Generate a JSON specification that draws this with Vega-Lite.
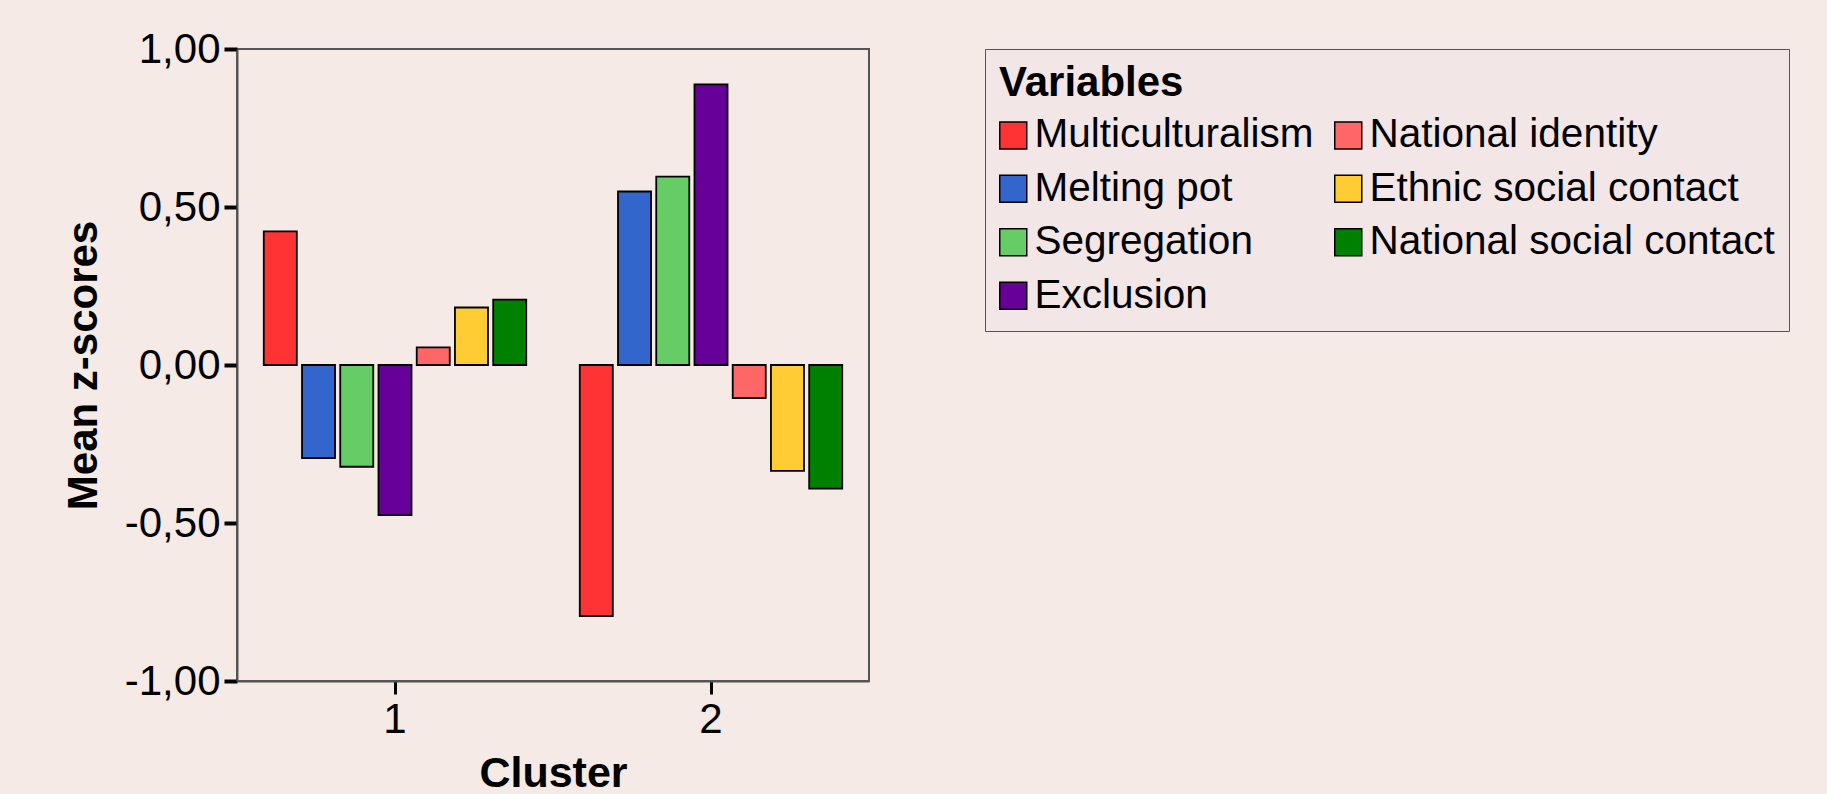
{
  "$schema": "https://vega.github.io/schema/vega-lite/v6.json",
  "width": 632,
  "height": 632,
  "autosize": {"type": "none"},
  "padding": {"left": 237, "top": 49, "right": 958, "bottom": 113},
  "background": "#F5EAE6",
  "config": {
    "view": {"stroke": "#555555", "strokeWidth": 2},
    "font": "Liberation Sans"
  },
  "data": {
    "values": [
      {"cluster": "1", "variable": "Multiculturalism", "z": 0.423},
      {"cluster": "1", "variable": "Melting pot", "z": -0.295},
      {"cluster": "1", "variable": "Segregation", "z": -0.322},
      {"cluster": "1", "variable": "Exclusion", "z": -0.475},
      {"cluster": "1", "variable": "National identity", "z": 0.056},
      {"cluster": "1", "variable": "Ethnic social contact", "z": 0.182},
      {"cluster": "1", "variable": "National social contact", "z": 0.207},
      {"cluster": "2", "variable": "Multiculturalism", "z": -0.795},
      {"cluster": "2", "variable": "Melting pot", "z": 0.549},
      {"cluster": "2", "variable": "Segregation", "z": 0.596},
      {"cluster": "2", "variable": "Exclusion", "z": 0.888},
      {"cluster": "2", "variable": "National identity", "z": -0.105},
      {"cluster": "2", "variable": "Ethnic social contact", "z": -0.335},
      {"cluster": "2", "variable": "National social contact", "z": -0.391}
    ]
  },
  "mark": {"type": "bar", "stroke": "#000000", "strokeWidth": 1.8},
  "encoding": {
    "x": {
      "field": "cluster",
      "type": "nominal",
      "scale": {"paddingInner": 0, "paddingOuter": 0},
      "axis": {
        "title": "Cluster",
        "titleFont": "Liberation Sans",
        "titleFontSize": 43,
        "titleFontWeight": "bold",
        "titleColor": "#000000",
        "titlePadding": 12,
        "labelFont": "Liberation Sans",
        "labelFontSize": 42,
        "labelColor": "#000000",
        "labelAngle": 0,
        "labelPadding": 5,
        "tickColor": "#000000",
        "tickWidth": 3,
        "tickSize": 13,
        "domainColor": "#555555",
        "domainWidth": 2
      }
    },
    "xOffset": {
      "field": "variable",
      "type": "nominal",
      "sort": ["Multiculturalism", "Melting pot", "Segregation", "Exclusion", "National identity", "Ethnic social contact", "National social contact"],
      "scale": {"paddingInner": 0.136, "paddingOuter": 0.7}
    },
    "y": {
      "field": "z",
      "type": "quantitative",
      "scale": {"domain": [-1, 1], "nice": false, "zero": false},
      "axis": {
        "title": "Mean z-scores",
        "titleFont": "Liberation Sans",
        "titleFontSize": 42,
        "titleFontWeight": "bold",
        "titleColor": "#000000",
        "titlePadding": 19,
        "values": [-1, -0.5, 0, 0.5, 1],
        "labelExpr": "replace(replace(format(datum.value, '.2f'), '.', ','), '\u2212', '-')",
        "labelFont": "Liberation Sans",
        "labelFontSize": 42,
        "labelColor": "#000000",
        "labelPadding": 4,
        "tickColor": "#000000",
        "tickWidth": 4,
        "tickSize": 13,
        "grid": false,
        "domainColor": "#555555",
        "domainWidth": 2
      }
    },
    "color": {
      "field": "variable",
      "type": "nominal",
      "scale": {
        "domain": ["Multiculturalism", "Melting pot", "Segregation", "Exclusion", "National identity", "Ethnic social contact", "National social contact"],
        "range": ["#FF3333", "#3366CC", "#66CC66", "#660099", "#FF6666", "#FFCC33", "#008000"]
      },
      "legend": {
        "title": "Variables",
        "orient": "none",
        "legendX": 748,
        "legendY": 0,
        "columns": 2,
        "columnPadding": 17,
        "rowPadding": 12.5,
        "padding": 14,
        "strokeColor": "#555555",
        "fillColor": "#F3E6E6",
        "titleFont": "Liberation Sans",
        "titleFontSize": 42,
        "titleFontWeight": "bold",
        "titleColor": "#000000",
        "titlePadding": 10,
        "titleLimit": 600,
        "labelFont": "Liberation Sans",
        "labelFontSize": 40.5,
        "labelColor": "#000000",
        "labelOffset": 1,
        "labelLimit": 600,
        "symbolType": "square",
        "symbolSize": 729,
        "symbolOffset": -6,
        "symbolStrokeColor": "#000000",
        "symbolStrokeWidth": 1.5,
        "symbolOpacity": 1
      }
    }
  }
}
